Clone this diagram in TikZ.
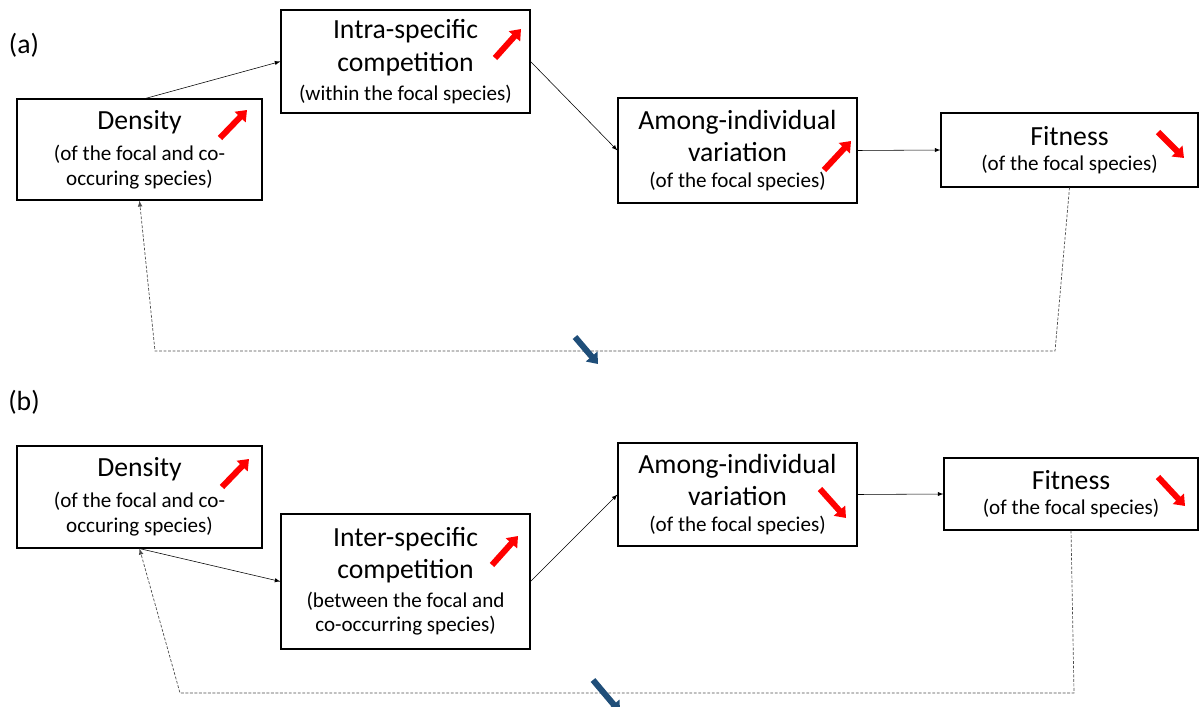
\documentclass[tikz,border=0pt]{standalone}
\usepackage{fontspec}
\setmainfont{Carlito}
\usepackage{xcolor}
\usepackage{tikz}
\usetikzlibrary{arrows.meta}
\definecolor{darkblue}{HTML}{1F4E79}
\newcommand{\bigtxt}{\fontsize{19.7}{18.5}\selectfont}
\newcommand{\smalltxt}{\fontsize{15}{18.5}\selectfont}
\tikzset{
  box/.style={draw, line width=0.8pt, align=center, inner sep=0pt},
  link/.style={-latex, line width=0.4pt},
  feedback/.style={-latex, line width=0.5pt, gray!60!black, dash pattern=on 2pt off 1.2pt},
  redarr/.style={draw=red, line width=4.3pt, -{Triangle[length=7pt,width=10.5pt]}},
  bluearr/.style={draw=darkblue, line width=4.3pt, -{Triangle[length=7pt,width=10.5pt]}}
}

\begin{document}
\begin{tikzpicture}
\useasboundingbox (0,0) rectangle (29.975,-17.675);
\clip (0,0) rectangle (29.975,-17.675);
% (a)
\node (laba) at (0.6,-1.125) {\bigtxt (a)};
\node[box, minimum width=6.125cm, minimum height=2.525cm] (dena) at (3.4875,-3.7375)
  {\bigtxt Density\\[7pt] \smalltxt (of the focal and co-\\[3.5pt] \smalltxt occuring species)};
\node[box, minimum width=6.225cm, minimum height=2.575cm] (intra) at (10.1375,-1.5375)
  {\bigtxt Intra-specific\\[5.5pt] \bigtxt competition\\[5.5pt] \smalltxt (within the focal species)};
\node[box, minimum width=5.975cm, minimum height=2.625cm] (amonga) at (18.4375,-3.7625)
  {\bigtxt Among-individual\\[5pt] \bigtxt variation\\[6pt] \smalltxt (of the focal species)};
\node[box, minimum width=6.425cm, minimum height=1.85cm] (fita) at (26.7375,-3.75)
  {\bigtxt Fitness\\[6pt] \smalltxt (of the focal species)};
\coordinate (fa1) at (26.375,-8.775);
\coordinate (fa2) at (3.875,-8.775);
\draw[link] ([xshift=0.15cm]dena.north) -- (intra.west);
\draw[link] (intra.east) -- (amonga.west);
\draw[link] (amonga.east) -- (fita.west);
\draw[feedback] (fita.south) -- (fa1) -- (fa2) -- (dena.south);
\draw[redarr] (5.5,-3.45) -- (6.175,-2.75);
\draw[redarr] (12.375,-1.45) -- (13.025,-0.725);
\draw[redarr] (20.6,-4.25) -- (21.275,-3.525);
\draw[redarr] (28.95,-3.3) -- (29.6,-3.95);
\draw[bluearr] (14.375,-8.425) -- (14.95,-9.1);
% (b)
\node (labb) at (0.6,-10.05) {\bigtxt (b)};
\node[box, minimum width=6.125cm, minimum height=2.55cm] (denb) at (3.4875,-12.425)
  {\bigtxt Density\\[7pt] \smalltxt (of the focal and co-\\[3.5pt] \smalltxt occuring species)};
\node[box, minimum width=6.225cm, minimum height=3.375cm] (inter) at (10.1375,-14.5375)
  {\bigtxt Inter-specific\\[5pt] \bigtxt competition\\[5pt] \smalltxt (between the focal and\\[3.5pt] \smalltxt co-occurring species)};
\node[box, minimum width=5.975cm, minimum height=2.575cm] (amongb) at (18.4375,-12.3625)
  {\bigtxt Among-individual\\[5pt] \bigtxt variation\\[6pt] \smalltxt (of the focal species)};
\node[box, minimum width=6.35cm, minimum height=1.8cm] (fitb) at (26.775,-12.35)
  {\bigtxt Fitness\\[6pt] \smalltxt (of the focal species)};
\coordinate (fb1) at (26.85,-17.325);
\coordinate (fb2) at (4.5,-17.325);
\draw[link] (denb.south) -- (inter.west);
\draw[link] (inter.east) -- (amongb.west);
\draw[link] (amongb.east) -- (fitb.west);
\draw[feedback] (fitb.south) -- (fb1) -- (fb2) -- (denb.south);
\draw[redarr] (5.55,-12.175) -- (6.225,-11.475);
\draw[redarr] (12.3,-14.125) -- (12.95,-13.4);
\draw[redarr] (20.5,-12.225) -- (21.15,-12.95);
\draw[redarr] (28.95,-11.925) -- (29.625,-12.65);
\draw[bluearr] (14.825,-17.0) -- (15.5,-17.8);
\end{tikzpicture}
\end{document}
